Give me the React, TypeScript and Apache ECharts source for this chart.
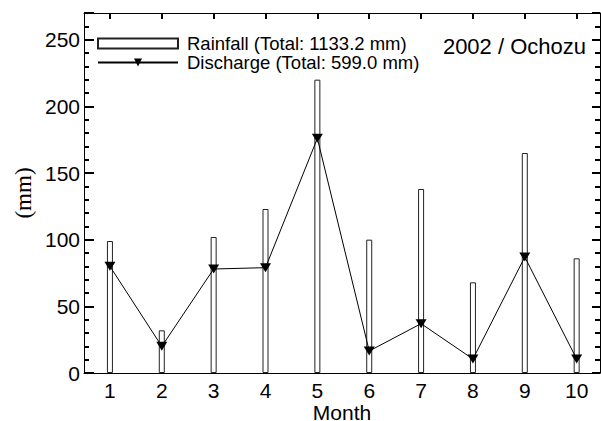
import React, { useEffect, useRef } from "react";
import * as echarts from "echarts";

const months = [1, 2, 3, 4, 5, 6, 7, 8, 9, 10];
const rainfall = [99, 32, 102, 123, 220, 100, 138, 68, 165, 86];
const discharge = [80, 20, 78, 79, 176, 16.5, 37, 10.5, 87, 10.5];
const rainName = "Rainfall (Total: 1133.2 mm)";
const dischargeName = "Discharge (Total: 599.0 mm)";
const titleText = "2002 / Ochozu";

const SANS = "'Liberation Sans', Arial, Helvetica, sans-serif";
const SERIF = "'Liberation Serif', 'Times New Roman', serif";

export default function App() {
  const ref = useRef<HTMLDivElement>(null);
  useEffect(() => {
    if (!ref.current) return;
    const chart = echarts.init(ref.current, null, { renderer: "svg" });
    const axisLine = { show: true, onZero: false, lineStyle: { color: "#000", width: 1 } };
    const tickStyle = { color: "#000", width: 2 };
    chart.setOption({
      animation: false,
      backgroundColor: "#fff",
      title: {
        text: titleText,
        right: 10,
        top: 30,
        textStyle: { fontFamily: SANS, fontSize: 22, fontWeight: "normal", color: "#000" },
      },
      legend: {
        orient: "vertical",
        left: 97,
        top: 34,
        padding: 0,
        itemWidth: 80,
        itemHeight: 10,
        itemGap: 0,
        data: [{ name: rainName, icon: "rect" }, { name: dischargeName }],
        textStyle: { fontFamily: SANS, fontSize: 18.5, color: "#000", padding: [0, 0, 0, 4] },
      },
      grid: { left: 84, right: 1, top: 13, bottom: 48, containLabel: false, outerBoundsMode: "none" },
      xAxis: [
        {
          type: "value",
          position: "bottom",
          min: 0.5,
          max: 10.45,
          name: "Month",
          nameLocation: "middle",
          nameGap: 29,
          nameMoveOverlap: false,
          nameTextStyle: { fontFamily: SANS, fontSize: 21, color: "#000" },
          axisLine,
          axisTick: { show: false },
          splitLine: { show: false },
          axisLabel: {
            customValues: months,
            fontFamily: SANS,
            fontSize: 21,
            color: "#000",
            margin: 7,
          },
        },
        {
          type: "value",
          position: "top",
          min: 0.5,
          max: 10.45,
          axisLine,
          axisTick: { show: true, inside: true, length: 6, customValues: months, lineStyle: tickStyle },
          axisLabel: { show: false },
          splitLine: { show: false },
        },
      ],
      yAxis: [
        {
          type: "value",
          position: "left",
          min: 0,
          max: 270,
          interval: 50,
          name: "(mm)",
          nameLocation: "middle",
          nameGap: 49,
          nameMoveOverlap: false,
          nameTextStyle: { fontFamily: SERIF, fontSize: 23, color: "#000" },
          axisLine,
          axisTick: { show: true, inside: true, length: 10, lineStyle: tickStyle },
          minorTick: { show: true, splitNumber: 5, length: 5, lineStyle: tickStyle },
          axisLabel: { showMaxLabel: false, fontFamily: SANS, fontSize: 21, color: "#000", margin: 4 },
          splitLine: { show: false },
        },
        {
          type: "value",
          position: "right",
          min: 0,
          max: 270,
          interval: 50,
          axisLine,
          axisTick: { show: true, inside: true, length: 8, lineStyle: tickStyle },
          minorTick: { show: true, splitNumber: 5, length: 5, lineStyle: tickStyle },
          axisLabel: { show: false },
          splitLine: { show: false },
        },
      ],
      series: [
        {
          name: rainName,
          type: "bar",
          xAxisIndex: 0,
          yAxisIndex: 0,
          barWidth: 6,
          itemStyle: { color: "#fff", borderColor: "#222", borderWidth: 1 },
          data: months.map((m, i) => [m, rainfall[i]]),
          z: 2,
        },
        {
          name: dischargeName,
          type: "line",
          xAxisIndex: 0,
          yAxisIndex: 0,
          symbol: "triangle",
          symbolSize: [11, 9],
          symbolRotate: 180,
          itemStyle: { color: "#000" },
          lineStyle: { color: "#000", width: 1 },
          data: months.map((m, i) => [m, discharge[i]]),
          z: 3,
        },
      ],
    });
    return () => chart.dispose();
  }, []);
  return <div ref={ref} style={{ width: 601, height: 421, position: "absolute", left: 0, top: 0 }} />;
}
